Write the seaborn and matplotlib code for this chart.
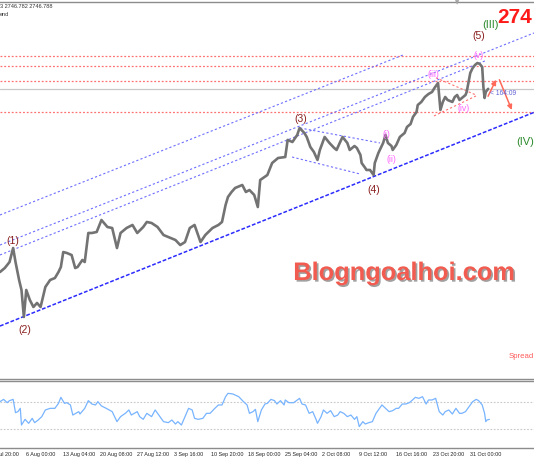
import matplotlib
matplotlib.use('Agg')
import matplotlib.pyplot as plt
import matplotlib.patheffects as pe
import matplotlib.transforms as mtrans
import seaborn as sns

sns.set_style('white')
plt.rcParams['font.family'] = ['Liberation Sans', 'DejaVu Sans']

# ---------------- data ----------------
price_bars = [0, 4, 8, 11, 13, 16, 18, 20, 22, 25, 28, 31, 34, 38, 42, 46, 49, 51, 53, 56,
              60, 63, 65, 69, 71, 74, 77, 81, 85, 90, 94, 98, 101, 106, 111, 115, 120, 123, 127, 132,
              137, 141, 147, 151, 155, 159, 163, 168, 172, 178, 183, 186, 189, 191, 194, 197, 203, 206, 209, 213,
              216, 218, 224, 228, 233, 239, 241, 245, 249, 251, 255, 257, 260, 263, 266, 268, 272, 276, 280, 282,
              285, 287, 291, 293, 297, 299, 302, 303, 306, 307, 310, 313, 314, 317, 321, 323, 325, 328, 329, 332,
              335, 339, 341, 344, 346, 349, 350, 353, 356, 359, 362, 364, 367, 369, 371, 373, 375, 379, 381, 383,
              385, 387, 390, 391, 394, 396, 398, 400, 402, 404, 405, 406, 407, 409]
price_close = [2440.8, 2447.5, 2457.5, 2480.9, 2457.5, 2427.5, 2410.8, 2365.7, 2410.8, 2394.1,
               2382.4, 2389.1, 2382.4, 2415.8, 2427.5, 2430.8, 2440.8, 2449.2, 2474.2, 2472.6,
               2469.2, 2447.5, 2449.2, 2460.9, 2457.5, 2506.0, 2506.0, 2507.7, 2527.7, 2516.0,
               2514.3, 2480.9, 2506.0, 2514.3, 2519.4, 2506.0, 2516.0, 2524.4, 2522.7, 2516.0,
               2502.6, 2499.3, 2494.3, 2485.9, 2490.9, 2514.3, 2519.4, 2490.9, 2502.6, 2514.3,
               2519.4, 2524.4, 2552.8, 2566.2, 2574.5, 2581.2, 2586.2, 2574.5, 2577.8, 2569.5,
               2549.4, 2594.5, 2602.9, 2622.9, 2631.3, 2632.9, 2661.4, 2658.0, 2669.7, 2681.4,
               2673.1, 2666.4, 2649.7, 2641.3, 2628.0, 2644.7, 2666.4, 2656.4, 2648.0, 2644.7,
               2658.0, 2666.4, 2656.4, 2644.7, 2651.3, 2648.0, 2636.3, 2622.9, 2614.6, 2611.3,
               2611.3, 2602.9, 2622.9, 2639.6, 2656.4, 2669.7, 2656.4, 2651.3, 2644.7, 2653.0,
               2666.4, 2673.1, 2683.1, 2688.1, 2699.8, 2708.2, 2719.8, 2724.9, 2733.2, 2738.2,
               2741.6, 2748.2, 2756.6, 2711.5, 2724.9, 2733.2, 2728.2, 2724.9, 2733.2, 2736.5,
               2728.2, 2731.5, 2736.5, 2741.6, 2773.3, 2781.6, 2786.7, 2790.0, 2788.3, 2783.3,
               2749.9, 2731.5, 2741.6, 2746.8]

osc_bars = [0, 3, 6, 8, 11, 13, 15, 17, 18, 21, 24, 27, 29, 32, 35, 38, 42, 46, 49, 51,
            54, 56, 59, 61, 66, 67, 71, 74, 77, 80, 82, 85, 89, 94, 98, 101, 105, 108, 110, 115,
            117, 120, 123, 127, 130, 134, 137, 141, 144, 147, 149, 152, 155, 158, 161, 163, 166, 170, 173, 176,
            180, 183, 186, 189, 191, 195, 200, 204, 207, 209, 212, 214, 216, 219, 222,
            224, 227, 230, 232, 235, 238, 239, 242, 246, 251, 253, 256, 259, 262, 265, 266, 269, 271, 274, 277,
            280, 283, 285, 288, 291, 294, 297, 299, 301, 304, 306, 309, 312, 315, 318, 320, 323, 326, 329, 332,
            334, 337, 340, 343, 345, 348, 351, 354, 357, 359, 362, 365, 368, 371, 373, 376, 379, 382, 385, 387,
            390, 393, 396, 399, 401, 404, 406, 407, 408, 410]
osc_values = [70.5, 73.9, 69.0, 72.0, 73.9, 54.2, 55.7, 60.6, 35.9, 44.3,
              38.4, 45.8, 39.4, 43.3, 48.3, 58.2, 60.6, 60.6, 68.0, 76.9,
              68.0, 69.0, 65.6, 50.7, 55.7, 52.2, 60.6, 72.0, 67.0, 65.6,
              70.5, 64.1, 60.6, 55.7, 40.9, 48.3, 53.2, 58.2, 50.7, 55.7,
              48.3, 44.3, 53.2, 48.3, 58.2, 48.3, 40.9, 39.4, 43.3, 37.4,
              40.9, 35.9, 48.3, 60.6, 58.2, 45.8, 44.3, 45.8, 53.2, 53.2,
              60.6, 65.6, 65.6, 77.9, 82.8, 81.9, 77.9, 70.5, 65.6, 53.2,
              55.7, 59.1, 40.9, 58.2, 67.0,
              68.0, 73.9, 72.0, 67.0, 72.0, 65.6, 73.0, 69.0, 69.0, 75.4,
              67.0, 65.6, 53.2, 55.7, 43.3, 38.4, 48.3, 58.2, 53.2, 57.2,
              48.3, 50.7, 55.7, 53.2, 48.3, 50.7, 44.3, 48.3, 33.5, 40.9,
              37.4, 39.4, 40.9, 53.2, 60.6, 65.6, 60.6, 55.7, 57.2, 60.6,
              60.6, 67.0, 67.0, 69.0, 72.0, 76.9, 75.4, 77.9, 67.0, 73.0,
              73.0, 75.4, 55.7, 50.7, 55.7, 58.2, 52.2, 60.6, 53.2, 53.2,
              55.7, 63.1, 70.5, 73.9, 72.0, 65.6, 53.2, 40.9, 43.3, 44.3]
osc_levels = [70, 30]

time_labels = ["30 Jul 20:00", "6 Aug 00:00", "13 Aug 04:00", "20 Aug 08:00", "27 Aug 12:00",
               "3 Sep 16:00", "10 Sep 20:00", "18 Sep 00:00", "25 Sep 04:00", "2 Oct 08:00",
               "9 Oct 12:00", "16 Oct 16:00", "23 Oct 20:00", "31 Oct 00:00"]
first_label_bar = -10
bars_per_label = 31

level_prices = [2801.7, 2785.0, 2760.0, 2708.2]
bid_price = 2746.78

# trend / channel lines: (bar0, price0, bar1, price1)
support_line = (0, 2350.6, 447.4, 2707.5)
channel_lines = [(0, 2536.1, 337.7, 2803.4),
                 (0, 2485.9, 447.4, 2840.1),
                 (0, 2469.3, 407.0, 2794.0)]
wedge_blue = [(251.4, 2681.4, 318.4, 2656.4),
              (244.7, 2632.9, 301.6, 2604.6)]
wedge_red = [(365.3, 2765.2, 398.8, 2736.5),
             (363.6, 2701.5, 398.8, 2734.9)]
arrows = [((408.9, 2734.4), (415.6, 2762.0)),
          ((418.4, 2762.0), (428.8, 2711.5))]

wave_major = [("(1)", 10.6, 2492.6), ("(2)", 20.9, 2343.9), ("(3)", 252.0, 2696.4),
              ("(4)", 313.4, 2577.8), ("(5)", 401.4, 2835.1)]
wave_minor = [("(i)", 324.0, 2669.7), ("(ii)", 328.2, 2629.1), ("(iii)", 363.1, 2771.1),
              ("(iv)", 388.8, 2713.2), ("(v)", 401.4, 2802.2)]
wave_higher = [("(III)", 410.6, 2853.5), ("(IV)", 439.9, 2658.5)]

# ---------------- figure ----------------
W, H = 534, 462
fig = plt.figure(figsize=(W / 100, H / 100), dpi=100)
fig.patch.set_facecolor('white')

ax = fig.add_axes([0, 1 - 379 / H, 1, (379 - 1.5) / H])
ax2 = fig.add_axes([0, 1 - 448 / H, 1, (448 - 381) / H])

xmax = 447.4
ax.set_xlim(0, xmax)
ax.set_ylim(2262.1, 2892.7)
ax2.set_xlim(0, xmax)
ax2.set_ylim(1.85, 101.1)

for a in (ax, ax2):
    a.set_facecolor('white')
    for s in ('left', 'right'):
        a.spines[s].set_visible(False)
    for s in ('top', 'bottom'):
        a.spines[s].set_color('#8c8c8c')
        a.spines[s].set_linewidth(1.0)
    a.set_yticks([])
ax.set_xticks([])

# horizontal levels
for p in level_prices:
    ax.axhline(p, color='#ff7070', lw=0.9, ls=(0, (1.5, 1.5)), zorder=1)
ax.axhline(bid_price, color='#c8c8c8', lw=0.9, zorder=1)

# channel lines
dash = (0, (2.0, 2.0))
for b0, p0, b1, p1 in channel_lines:
    ax.plot([b0, b1], [p0, p1], color='#6e6eff', lw=0.8, ls=dash, zorder=2)
b0, p0, b1, p1 = support_line
ax.plot([b0, b1], [p0, p1], color='#2b2bff', lw=1.1, ls=(0, (2.5, 1.2)), zorder=2)
for b0, p0, b1, p1 in wedge_blue:
    ax.plot([b0, b1], [p0, p1], color='#6e6eff', lw=0.8, ls=dash, zorder=2)
for b0, p0, b1, p1 in wedge_red:
    ax.plot([b0, b1], [p0, p1], color='#ff7070', lw=0.8, ls=dash, zorder=2)

# price series
sns.lineplot(x=price_bars, y=price_close, ax=ax, color='#737373', linewidth=1.9,
             estimator=None, sort=False, zorder=3)

# arrows
for (t, h) in arrows:
    ax.annotate('', xy=h, xytext=t,
                arrowprops=dict(arrowstyle='-|>', color='#ff6a5a', lw=1.1,
                                mutation_scale=7, shrinkA=0, shrinkB=0))

# wave labels
for txt, b, p in wave_major:
    ax.text(b, p, txt, color='#8b1f1f', fontsize=7.5, ha='center', va='center', zorder=5)
for txt, b, p in wave_minor:
    ax.text(b, p, txt, color='#ff66ff', fontsize=6.3, ha='center', va='center', zorder=5)
for txt, b, p in wave_higher:
    ax.text(b, p, txt, color='#2e8b2e', fontsize=8, ha='center', va='center', zorder=5)

ax.text(410.5, 2739.5, "< 164:09", color='#6060d8', fontsize=4.8, ha='left', va='center', zorder=5)

# oscillator panel
for lv in osc_levels:
    ax2.axhline(lv, color='#c8c8c8', lw=0.8, ls=(0, (1.5, 1.5)))
sns.lineplot(x=osc_bars, y=osc_values, ax=ax2, color='#78b4ff', linewidth=0.9,
             estimator=None, sort=False)
ax2.set_xlabel('')
ax2.set_ylabel('')
ax.set_xlabel('')
ax.set_ylabel('')

ticks = [first_label_bar + bars_per_label * k for k in range(len(time_labels))]
ax2.set_xticks([t for t in ticks if t >= 0])
ax2.set_xticklabels([])
ax2.tick_params(axis='x', length=2.5, width=0.7, color='#8c8c8c', direction='out')
trans = mtrans.blended_transform_factory(ax2.transData, ax2.transAxes)
for t, lab in zip(ticks, time_labels):
    ax2.text(t + 0.8, -0.09, lab, transform=trans, fontsize=3.9, color='#222222',
             ha='left', va='center', clip_on=False)

# header texts
fig.text(0.0, 1 - 7 / H, "3 2746.782 2746.788", fontsize=4, color='#333333', va='center', ha='left')
fig.text(0.0, 1 - 14.5 / H, "end", fontsize=4, color='#333333', va='center', ha='left')
fig.text(497 / W, 1 - 23.3 / H, "274", fontsize=15, color='#ff1a1a', fontweight='bold',
         ha='left', va='baseline')
fig.text(509 / W, 1 - 356 / H, "Spread", fontsize=5.6, color='#ff5a5a', ha='left', va='center')
fig.text(457 / W, 1 - 2.5 / H, "\u25BC", fontsize=4, color='#a0a0a0', ha='center', va='center',
         family='DejaVu Sans')

wm = fig.text(404 / W, 1 - 273 / H, "Blogngoalhoi.com", fontsize=18.3, color='#f25c50',
              fontweight='bold', ha='center', va='center', zorder=10)
wm.set_path_effects([pe.withSimplePatchShadow(offset=(1.2, -1.2), shadow_rgbFace='#555555', alpha=0.55)])

fig.savefig('out.png', dpi=100, facecolor='white')
